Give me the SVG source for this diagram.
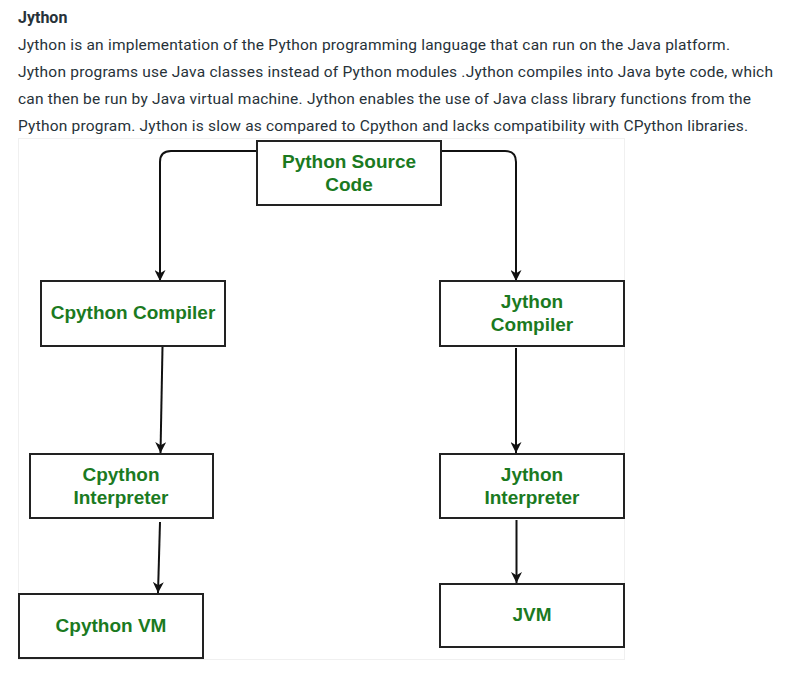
<svg xmlns="http://www.w3.org/2000/svg" width="788" height="683" viewBox="0 0 788 683">
<style>
.p{font-family:Roboto,"Liberation Sans",sans-serif;font-size:15.5px;fill:#273239}
.t{font-family:Roboto,"Liberation Sans",sans-serif;font-size:16px;font-weight:bold;fill:#273239}
.box{fill:#fff;stroke:#222;stroke-width:2}
.lbl{font-family:"Liberation Sans",Arial,sans-serif;font-size:19px;font-weight:bold;fill:#1b7a1f;text-anchor:middle}
.c{fill:none;stroke:#111;stroke-width:2}
</style>
<defs>
<marker id="ah" viewBox="0 0 10 10" refX="10" refY="5" markerWidth="6" markerHeight="5.5" orient="auto" markerUnits="strokeWidth">
<path d="M0,0 L10,5 L0,10 L3,5 z" fill="#111"/>
</marker>
</defs>
<rect width="788" height="683" fill="#fff"/>
<g id="text">
<text class="t" x="18" y="23">Jython</text>
<text class="p" x="18" y="50" textLength="712" lengthAdjust="spacing">Jython is an implementation of the Python programming language that can run on the Java platform.</text>
<text class="p" x="18" y="77" textLength="755" lengthAdjust="spacing">Jython programs use Java classes instead of Python modules .Jython compiles into Java byte code, which</text>
<text class="p" x="18" y="104" textLength="733" lengthAdjust="spacing">can then be run by Java virtual machine. Jython enables the use of Java class library functions from the</text>
<text class="p" x="18" y="131" textLength="730" lengthAdjust="spacing">Python program. Jython is slow as compared to Cpython and lacks compatibility with CPython libraries.</text>
</g>
<rect x="18.5" y="138.5" width="606" height="521" fill="#fff" stroke="#f0f0f0" stroke-width="1"/>
<g id="connectors">
<path class="c" d="M257,151 H171 Q160,151 160,162 V281" marker-end="url(#ah)"/>
<path class="c" d="M441,151 H505 Q516,151 516,162 V281" marker-end="url(#ah)"/>
<path class="c" d="M162.5,347 L160.5,453" marker-end="url(#ah)"/>
<path class="c" d="M516,348 L516,453" marker-end="url(#ah)"/>
<path class="c" d="M160,522 L158,593" marker-end="url(#ah)"/>
<path class="c" d="M516.5,520 L516.5,583" marker-end="url(#ah)"/>
</g>
<g id="source">
<rect class="box" x="257" y="141" width="184" height="64"/>
<text class="lbl" x="349" y="168">Python Source</text>
<text class="lbl" x="349" y="191">Code</text>
</g>
<g id="cpython-compiler">
<rect class="box" x="41" y="281" width="184" height="65"/>
<text class="lbl" x="133" y="319">Cpython Compiler</text>
</g>
<g id="jython-compiler">
<rect class="box" x="440" y="281" width="184" height="65"/>
<text class="lbl" x="532" y="308">Jython</text>
<text class="lbl" x="532" y="331">Compiler</text>
</g>
<g id="cpython-interpreter">
<rect class="box" x="30" y="454" width="183" height="64"/>
<text class="lbl" x="121" y="481">Cpython</text>
<text class="lbl" x="121" y="504">Interpreter</text>
</g>
<g id="jython-interpreter">
<rect class="box" x="440" y="454" width="184" height="64"/>
<text class="lbl" x="532" y="481">Jython</text>
<text class="lbl" x="532" y="504">Interpreter</text>
</g>
<g id="cpython-vm">
<rect class="box" x="19" y="594" width="184" height="64"/>
<text class="lbl" x="111" y="632">Cpython VM</text>
</g>
<g id="jvm">
<rect class="box" x="440" y="584" width="184" height="63"/>
<text class="lbl" x="532" y="621">JVM</text>
</g>
</svg>
